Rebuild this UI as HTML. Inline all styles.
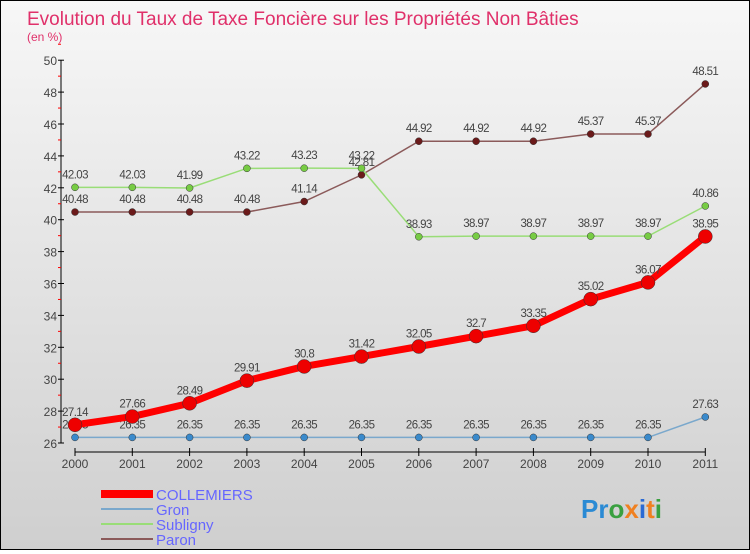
<!DOCTYPE html>
<html><head><meta charset="utf-8"><style>
body{margin:0;width:750px;height:550px;overflow:hidden;font-family:"Liberation Sans",sans-serif}
#c{position:relative;width:748px;height:548px;border:1px solid #000;background:linear-gradient(#f7f7f7,#cfcfcf)}
</style></head><body>
<div id="c">
<svg id="s" width="748" height="548" xmlns="http://www.w3.org/2000/svg">
<text x="26" y="24" font-size="19" fill="#e0306a">Evolution du Taux de Taxe Foncière sur les Propriétés Non Bâties</text>
<text x="26" y="40" font-size="12" fill="#e0306a">(en %)</text>
<g id="axes"></g><g id="plot"></g>
<g>
<rect x="100" y="489" width="52" height="8" fill="#ff0000"/>
<text x="155" y="499" font-size="15" fill="#6666ff">COLLEMIERS</text>
<rect x="100" y="507" width="52" height="2" fill="#7aa8cc"/>
<text x="155" y="514" font-size="15" fill="#6666ff">Gron</text>
<rect x="100" y="522" width="52" height="2" fill="#99dd77"/>
<text x="155" y="529" font-size="15" fill="#6666ff">Subligny</text>
<rect x="100" y="537" width="52" height="2" fill="#8b5a5a"/>
<text x="155" y="544" font-size="15" fill="#6666ff">Paron</text>
</g>
<text x="580" y="517" font-size="26" font-weight="bold"><tspan fill="#2a8ad4">Pr</tspan><tspan fill="#3aa040">o</tspan><tspan fill="#f08020">x</tspan><tspan fill="#2a6ad4">i</tspan><tspan fill="#f08020">t</tspan><tspan fill="#3aa040">i</tspan></text>
</svg></div>
<script>
const years=[2000,2001,2002,2003,2004,2005,2006,2007,2008,2009,2010,2011];
const yTicks=[26,28,30,32,34,36,38,40,42,44,46,48,50];
const collemiers=[27.14,27.66,28.49,29.91,30.8,31.42,32.05,32.7,33.35,35.02,36.07,38.95];
const gron=[26.35,26.35,26.35,26.35,26.35,26.35,26.35,26.35,26.35,26.35,26.35,27.63];
const subligny=[42.03,42.03,41.99,43.22,43.23,43.22,38.93,38.97,38.97,38.97,38.97,40.86];
const paron=[40.48,40.48,40.48,40.48,41.14,42.81,44.92,44.92,44.92,45.37,45.37,48.51];
const NS="http://www.w3.org/2000/svg";
const X=i=>74+i*57.3, Y=v=>442-(v-26)*15.95;
function mk(t,a,p){const e=document.createElementNS(NS,t);for(const k in a)e.setAttribute(k,a[k]);p.appendChild(e);return e;}
const ax=document.getElementById('axes'),pl=document.getElementById('plot');
const yl=mk('line',{x1:60,y1:Y(50),x2:60,y2:Y(26),stroke:'#000'},ax);


yTicks.forEach(v=>{
 const t=mk('line',{x1:57,x2:63,y1:Y(v),y2:Y(v),stroke:'#000'},ax);
 
 
 const m=mk('line',{x1:57,x2:60,y1:Y(v+1),y2:Y(v+1),stroke:'#f00'},ax);
 
 
 const l=mk('text',{x:56,y:Y(v)+5,'text-anchor':'end','font-size':12,fill:'#444'},ax);l.textContent=v;
 
 
});
const xl=mk('line',{x1:X(0),y1:451,x2:X(11),y2:451,stroke:'#000'},ax);


years.forEach((y,i)=>{
 const t=mk('line',{x1:X(i),x2:X(i),y1:447,y2:455,stroke:'#000'},ax);
 
 
 const l=mk('text',{x:X(i),y:467,'text-anchor':'middle','font-size':12,fill:'#444'},ax);l.textContent=y;
 
 
});
function series(name,d,col,dot,w,r){
 const g=mk('g',{},pl);
 
 
 const p=mk('polyline',{points:d.map((v,i)=>X(i)+','+Y(v)).join(' '),fill:'none',stroke:col,'stroke-width':w},g);
 
 
 d.forEach((v,i)=>{
  const c=mk('circle',{cx:X(i),cy:Y(v),r:r,fill:dot,stroke:'#333','stroke-width':0.5},g);
  
  
  const l=mk('text',{x:X(i),y:Y(v)-9,'text-anchor':'middle','font-size':11.5,fill:'#444','letter-spacing':'-0.6'},g);
  l.textContent=String(v);
  
  
 });
}
series('paron',paron,'#8b5a5a','#6b1a1a',1.5,3.5);
series('subligny',subligny,'#99dd77','#77cc44',1.5,3.5);
series('gron',gron,'#7aa8cc','#3a8acc',1.5,3.5);
series('collemiers',collemiers,'#ff0000','#ee0000',7,7);
</script>
</body></html>
